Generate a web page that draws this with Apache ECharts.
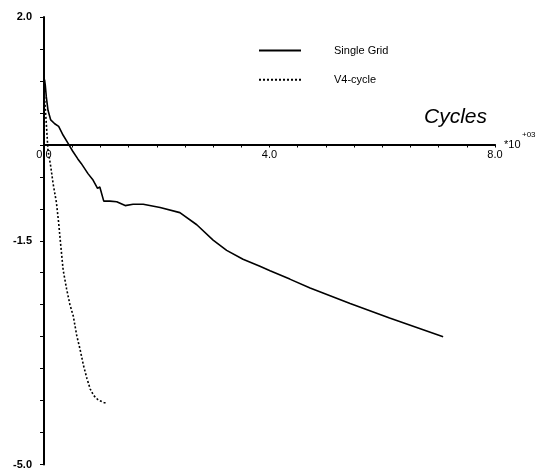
<!DOCTYPE html>
<html>
<head>
<meta charset="utf-8">
<script src="https://cdn.jsdelivr.net/npm/echarts@6/dist/echarts.min.js"></script>
<style>html,body{margin:0;padding:0;background:#fff}#c{width:541px;height:470px}</style>
</head>
<body>
<div id="c"></div>
<script>
// x in units of 10^3 cycles, y value
const singleGridX = [0.01,0.023,0.041,0.071,0.119,0.19,0.26,0.34,0.43,0.51,0.60,0.66,0.78,0.87,0.95,0.99,1.06,1.17,1.29,1.44,1.58,1.76,2.06,2.41,2.71,3.00,3.24,3.53,3.83,4.01,4.36,4.72,5.43,6.13,7.08];
const singleGridY = [1.02,0.93,0.75,0.54,0.39,0.33,0.29,0.15,0.02,-0.10,-0.22,-0.29,-0.45,-0.55,-0.68,-0.66,-0.88,-0.88,-0.89,-0.95,-0.93,-0.93,-0.98,-1.06,-1.25,-1.49,-1.65,-1.79,-1.90,-1.97,-2.10,-2.24,-2.48,-2.71,-3.00];
const v4X = [0.01,0.04,0.07,0.12,0.16,0.22,0.26,0.285,0.34,0.40,0.46,0.52,0.58,0.64,0.70,0.76,0.82,0.88,0.96,1.06,1.11];
const v4Y = [0.75,0.35,-0.08,-0.34,-0.60,-0.90,-1.22,-1.46,-1.96,-2.25,-2.50,-2.68,-2.98,-3.20,-3.45,-3.65,-3.82,-3.92,-3.99,-4.03,-4.04];
const xTickLabels = [0, 4, 8];
const yTickLabels = [2.0, -1.5, -5.0];
const seriesNames = ['Single Grid', 'V4-cycle'];

const pair = (xs, ys) => xs.map((x, i) => [x, ys[i]]);
const font = 'Liberation Sans, Arial, Helvetica, sans-serif';
const gridTop = 17, gridBottom = 5, H = 470;
const yMin = -5, yMax = 2;
const zeroOffset = -((H - gridTop - gridBottom) * (0 - yMin) / (yMax - yMin));

const chart = echarts.init(document.getElementById('c'), null, {renderer: 'canvas'});
chart.setOption({
  animation: false,
  backgroundColor: '#fff',
  grid: {left: 44, right: 46, top: gridTop, bottom: gridBottom, containLabel: false},
  title: {
    text: 'Cycles', left: 419, top: 102,
    textStyle: {fontFamily: font, fontStyle: 'italic', fontWeight: 'normal', fontSize: 21, color: '#000'}
  },
  legend: {
    orient: 'vertical', left: 253, top: 40,
    itemWidth: 42, itemHeight: 14, itemGap: 18,
    data: seriesNames,
    itemStyle: {opacity: 0},
    textStyle: {fontFamily: font, fontSize: 11, color: '#000', padding: [0, 0, 0, 28]}
  },
  graphic: [{
    type: 'text', left: 504, top: 139,
    style: {text: '*10', fontFamily: font, fontSize: 11, fill: '#000'}
  }, {
    type: 'text', left: 522, top: 131,
    style: {text: '+03', fontFamily: font, fontSize: 8, fill: '#000'}
  }],
  xAxis: {
    type: 'value', min: 0, max: 8, interval: 0.5,
    offset: zeroOffset,
    axisLine: {onZero: false, lineStyle: {color: '#000', width: 2}},
    axisTick: {show: true, length: 3, lineStyle: {color: '#000', width: 1}},
    splitLine: {show: false},
    axisLabel: {
      color: '#000', fontFamily: font, fontSize: 11, margin: 5,
      formatter: v => xTickLabels.some(t => Math.abs(t - v) < 1e-6) ? v.toFixed(1) : ''
    }
  },
  yAxis: {
    type: 'value', min: yMin, max: yMax, interval: 0.5,
    axisLine: {show: true, lineStyle: {color: '#000', width: 2}},
    axisTick: {show: true, length: 4, lineStyle: {color: '#000', width: 1}},
    splitLine: {show: false},
    axisLabel: {
      color: '#000', fontFamily: font, fontSize: 11, fontWeight: 'bold', margin: 12,
      formatter: v => yTickLabels.some(t => Math.abs(t - v) < 1e-6) ? v.toFixed(1) : ''
    }
  },
  series: [{
    name: seriesNames[0], type: 'line', symbol: 'none', smooth: false,
    data: pair(singleGridX, singleGridY),
    lineStyle: {color: '#000', width: 1.6, type: 'solid'},
    itemStyle: {color: '#000'}
  }, {
    name: seriesNames[1], type: 'line', symbol: 'none', smooth: false,
    data: pair(v4X, v4Y),
    lineStyle: {color: '#000', width: 1.6, type: [2, 2]},
    itemStyle: {color: '#000'}
  }]
});
</script>
</body>
</html>
